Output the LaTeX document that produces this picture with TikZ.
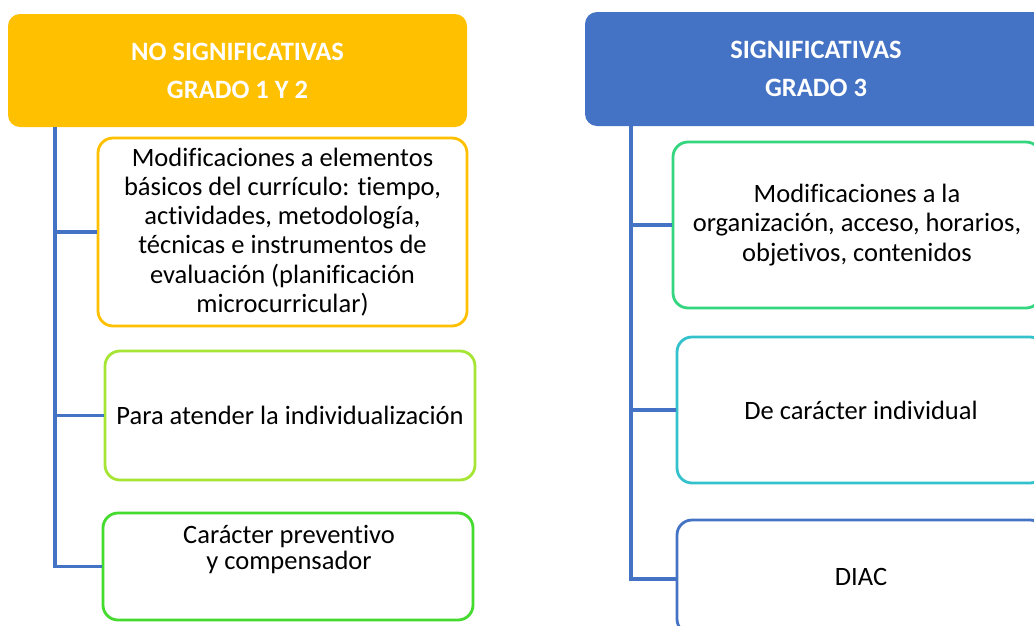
\documentclass[tikz,border=0pt]{standalone}
\usepackage{fontspec}
\setmainfont{Carlito}[Ligatures=NoCommon]
\definecolor{hdrorange}{HTML}{FFC000}
\definecolor{hdrblue}{HTML}{4472C4}
\definecolor{bdlime}{HTML}{A6E534}
\definecolor{bdgreen}{HTML}{45DB2E}
\definecolor{bdmint}{HTML}{33D67E}
\definecolor{bdcyan}{HTML}{33C1CC}
\tikzset{
  hdr/.style={rounded corners=12pt, inner sep=0pt, align=center, text=white,
    font=\fontsize{26.5}{38}\selectfont\bfseries},
  itembox/.style={draw, line width=2.8pt, rounded corners=15pt, fill=white, inner sep=0pt,
    align=center, font=\fontsize{26.5}{29.2}\selectfont},
  conn/.style={draw=hdrblue, line width=3.2pt},
}
\begin{document}
\begin{tikzpicture}[x=1pt,y=-1pt]
\useasboundingbox (0,0) rectangle (1034,625);
\fill[white] (0,0) rectangle (1034,625);
\clip (0,0) rectangle (1034,625);
% headers
\node[hdr, fill=hdrorange, minimum width=459pt, minimum height=113pt] (hL) at (237.5,70.5)
  {NO SIGNIFICATIVAS\\GRADO 1 Y 2};
\node[hdr, fill=hdrblue, minimum width=462pt, minimum height=114pt] (hR) at (816,69)
  {SIGNIFICATIVAS\\GRADO 3};
% trunk coordinates
\coordinate (tL) at (55,127);
\coordinate (tR) at (631,126);
% left boxes
\node[itembox, draw=hdrorange, minimum width=369pt, minimum height=188pt] (b1) at (282.5,232)
  {Modificaciones a elementos\\b\'asicos del curr\'iculo: tiempo,\\actividades, metodolog\'ia,\\t\'ecnicas e instrumentos de\\evaluaci\'on (planificaci\'on\\microcurricular)};
\node[itembox, draw=bdlime, minimum width=370pt, minimum height=129pt] (b2) at (290,415.5)
  {Para atender la individualizaci\'on};
\node[itembox, draw=bdgreen, minimum width=370pt, minimum height=107pt] (b3) at (288,566.5) {};
\node[align=center, inner sep=0pt, font=\fontsize{26.5}{26}\selectfont] (b3t) at (289,550)
  {Car\'acter preventivo\\y compensador};
% right boxes
\node[itembox, draw=bdmint, minimum width=368pt, minimum height=166pt] (r1) at (857,225)
  {Modificaciones a la\\organizaci\'on, acceso, horarios,\\objetivos, contenidos};
\node[itembox, draw=bdcyan, minimum width=368pt, minimum height=146pt] (r2) at (861,410)
  {De car\'acter individual};
\node[itembox, draw=hdrblue, minimum width=368pt, minimum height=114pt] (r3) at (861,577)
  {DIAC};
% connectors
\draw[conn] (tL) |- (b3.west);
\draw[conn] (tL |- b1.west) -- (b1.west);
\draw[conn] (tL |- b2.west) -- (b2.west);
\draw[conn] (tR) |- ([yshift=-2pt]r3.west);
\draw[conn] (tR |- r1.west) -- (r1.west);
\draw[conn] (tR |- r2.west) -- (r2.west);
\end{tikzpicture}
\end{document}
